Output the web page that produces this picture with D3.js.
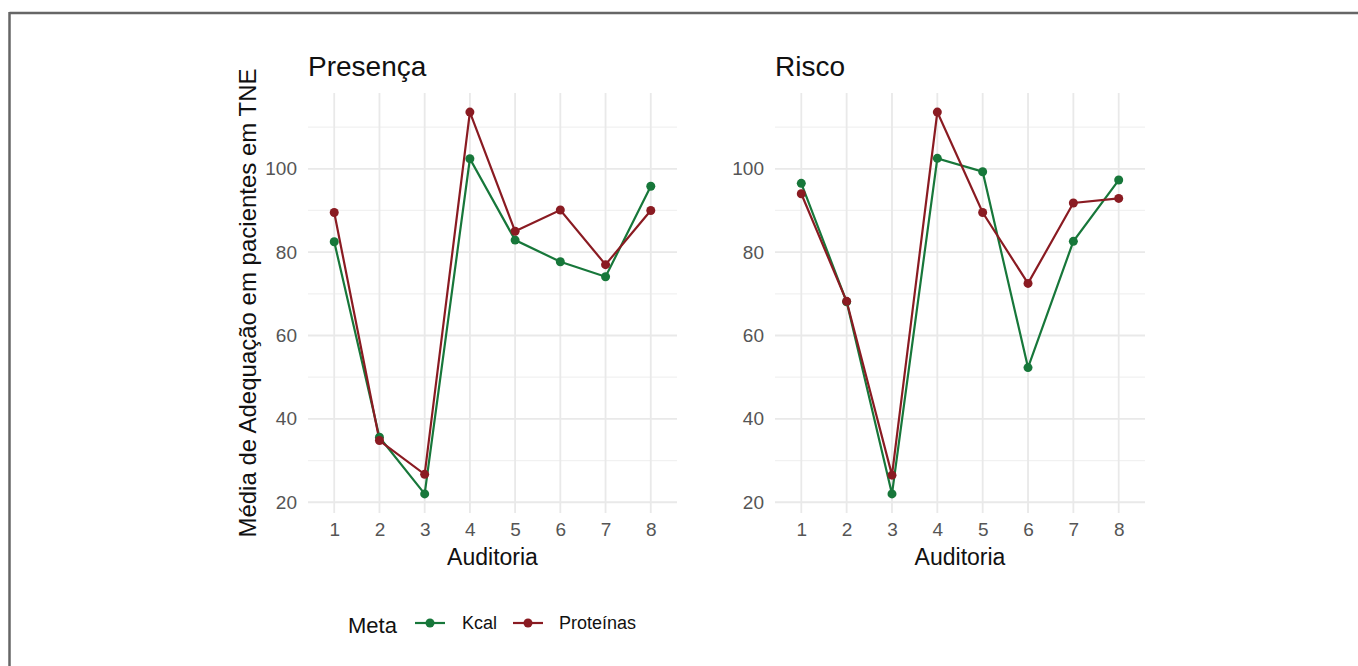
<!DOCTYPE html>
<html>
<head>
<meta charset="utf-8">
<script src="https://cdn.jsdelivr.net/npm/d3@7"></script>
<style>
  html, body { margin: 0; padding: 0; background: #fff; }
  svg { display: block; font-family: "Liberation Sans", Arial, sans-serif; }
</style>
</head>
<body>
<svg id="chart" width="1358" height="666"></svg>
<script>
// Audit rounds on the x axis
const auditorias = [1, 2, 3, 4, 5, 6, 7, 8];
const xTicks = [1, 2, 3, 4, 5, 6, 7, 8];
const yTicks = [20, 40, 60, 80, 100];
const yMinor = [30, 50, 70, 90, 110];

// Panel names (facets)
const paineis = ["Presença", "Risco"];
const metas = ["Kcal", "Proteinas"];
const metaLabels = ["Kcal", "Proteínas"];

// Mean adequacy per audit, by facet and goal
const presencaKcal      = [82.5, 35.6, 22.0, 102.4, 82.9, 77.7, 74.1, 95.8];
const presencaProteinas = [89.5, 34.8, 26.7, 113.6, 85.0, 90.1, 77.0, 90.0];
const riscoKcal         = [96.5, 68.1, 22.0, 102.5, 99.3, 52.3, 82.6, 97.3];
const riscoProteinas    = [94.0, 68.2, 26.5, 113.6, 89.5, 72.5, 91.8, 92.9];

const seriesByPanel = {
  "Presença": { Kcal: presencaKcal, Proteinas: presencaProteinas },
  "Risco":    { Kcal: riscoKcal,    Proteinas: riscoProteinas }
};

const colors = { Kcal: "#17773a", Proteinas: "#8a1b22" };

const svg = d3.select("#chart");

// frame lines along the top and left edges
svg.append("line").attr("x1", 9.5).attr("x2", 1358).attr("y1", 13).attr("y2", 13)
  .attr("stroke", "#666").attr("stroke-width", 2.5);
svg.append("line").attr("x1", 9.5).attr("x2", 9.5).attr("y1", 12).attr("y2", 666)
  .attr("stroke", "#666").attr("stroke-width", 2.5);

// shared y scale with 5% expansion over the full data range
const allVals = [].concat(presencaKcal, presencaProteinas, riscoKcal, riscoProteinas);
const [vmin, vmax] = d3.extent(allVals);
const pad = (vmax - vmin) * 0.05;
const plotTop = 93, plotBottom = 513;
const y = d3.scaleLinear().domain([vmin - pad, vmax + pad]).range([plotBottom, plotTop]);

const panelX = [[308, 677], [775, 1145]];

paineis.forEach((nome, i) => {
  const [x0, x1] = panelX[i];
  const x = d3.scaleLinear().domain([0.42, 8.58]).range([x0, x1]);
  const g = svg.append("g");

  // minor grid
  g.selectAll(".ymin").data(yMinor).join("line")
    .attr("x1", x0).attr("x2", x1)
    .attr("y1", d => y(d)).attr("y2", d => y(d))
    .attr("stroke", "#f1f1f1").attr("stroke-width", 1.2);
  // major grid
  g.selectAll(".ymaj").data(yTicks).join("line")
    .attr("x1", x0).attr("x2", x1)
    .attr("y1", d => y(d)).attr("y2", d => y(d))
    .attr("stroke", "#e9e9e9").attr("stroke-width", 1.8);
  g.selectAll(".xmaj").data(xTicks).join("line")
    .attr("x1", d => x(d)).attr("x2", d => x(d))
    .attr("y1", plotTop).attr("y2", plotBottom)
    .attr("stroke", "#e9e9e9").attr("stroke-width", 1.8);

  // y tick labels
  const yAxis = d3.axisLeft(y).tickValues(yTicks).tickSize(0).tickPadding(0);
  const ya = g.append("g").attr("transform", `translate(${x0 - 11},0)`).call(yAxis);
  ya.select(".domain").remove();
  ya.selectAll("text").attr("font-size", 19).attr("fill", "#555")
    .attr("font-family", "Liberation Sans, Arial, sans-serif");

  // x tick labels
  const xAxis = d3.axisBottom(x).tickValues(xTicks).tickSize(0).tickPadding(0);
  const xa = g.append("g").attr("transform", `translate(0,${plotBottom + 9})`).call(xAxis);
  xa.select(".domain").remove();
  xa.selectAll("text").attr("font-size", 19).attr("fill", "#555")
    .attr("font-family", "Liberation Sans, Arial, sans-serif");

  // panel title
  g.append("text").attr("x", x0).attr("y", 76)
    .attr("font-size", 28).attr("fill", "#111").text(nome);

  // x axis title
  g.append("text").attr("x", (x0 + x1) / 2).attr("y", 565)
    .attr("text-anchor", "middle").attr("font-size", 23).attr("fill", "#111")
    .text("Auditoria");

  const line = d3.line().x((d, j) => x(auditorias[j])).y(d => y(d));
  metas.forEach(m => {
    g.append("path").datum(seriesByPanel[nome][m])
      .attr("d", line).attr("fill", "none")
      .attr("stroke", colors[m]).attr("stroke-width", 2.2);
  });
  metas.forEach(m => {
    g.selectAll(".pt-" + m).data(seriesByPanel[nome][m]).join("circle")
      .attr("cx", (d, j) => x(auditorias[j])).attr("cy", d => y(d))
      .attr("r", 4.5).attr("fill", colors[m]);
  });
});

// y axis title
svg.append("text")
  .attr("transform", `translate(256,${(plotTop + plotBottom) / 2}) rotate(-90)`)
  .attr("text-anchor", "middle").attr("font-size", 24).attr("fill", "#111")
  .text("Média de Adequação em pacientes em TNE");

// legend
const leg = svg.append("g");
leg.append("text").attr("x", 348).attr("y", 633).attr("font-size", 22).attr("fill", "#111").text("Meta");
const keyX = [415, 513];
const labX = [462, 559];
metas.forEach((m, i) => {
  leg.append("line").attr("x1", keyX[i]).attr("x2", keyX[i] + 30).attr("y1", 623).attr("y2", 623)
    .attr("stroke", colors[m]).attr("stroke-width", 2.2);
  leg.append("circle").attr("cx", keyX[i] + 15).attr("cy", 623).attr("r", 4.5).attr("fill", colors[m]);
  leg.append("text").attr("x", labX[i]).attr("y", 629).attr("font-size", 18).attr("fill", "#111")
    .text(metaLabels[i]);
});
</script>
</body>
</html>
